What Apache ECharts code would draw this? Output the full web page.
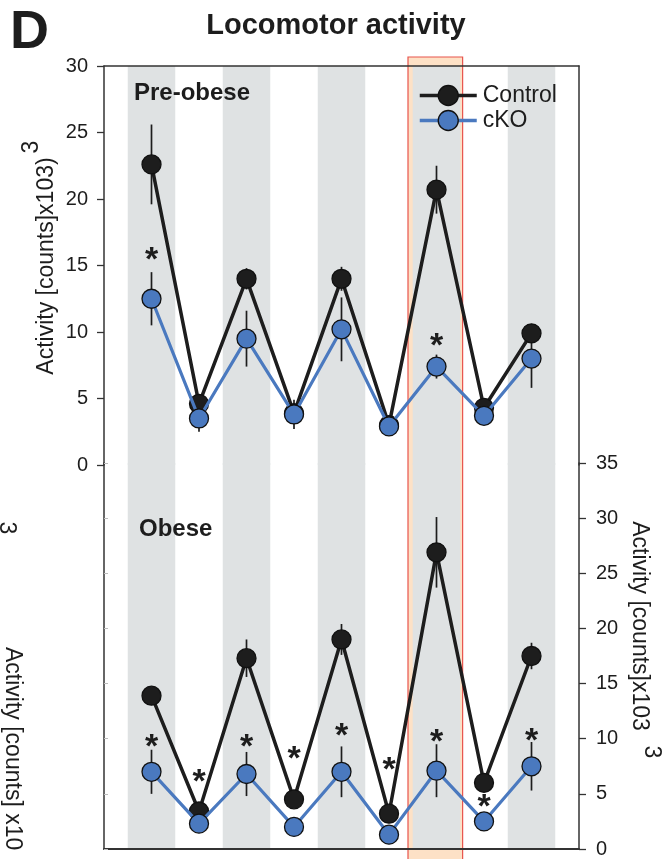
<!DOCTYPE html>
<html><head><meta charset="utf-8">
<script src="https://cdn.jsdelivr.net/npm/echarts@6/dist/echarts.min.js"></script>
<style>html,body{margin:0;padding:0;background:#fff}#c{width:669px;height:859px}</style>
</head><body><div id="c"></div>
<script>
// ---- data ----
const timepoints = [0, 1, 2, 3, 4, 5, 6, 7, 8];
const preControl    = [22.6, 4.6, 14.0, 3.9, 14.0, 3.0, 20.7, 4.3, 9.9];
const preControlErr = [3.0, 0.5, 0.8, 0.4, 0.9, 0.3, 1.8, 0.4, 0.6];
const preCKO        = [12.5, 3.5, 9.5, 3.8, 10.2, 2.9, 7.4, 3.7, 8.0];
const preCKOErr     = [2.0, 1.0, 2.1, 1.1, 2.4, 0.4, 0.9, 0.4, 2.2];
const obControl     = [13.9, 3.4, 17.3, 4.5, 19.0, 3.2, 26.9, 6.0, 17.5];
const obControlErr  = [0.5, 0.4, 1.7, 0.4, 1.4, 0.4, 3.2, 0.5, 1.2];
const obCKO         = [7.0, 2.3, 6.8, 2.0, 7.0, 1.3, 7.1, 2.5, 7.5];
const obCKOErr      = [2.0, 0.4, 2.0, 0.3, 2.3, 0.3, 2.4, 0.4, 2.2];
const preStars = [[0, 16.0], [6, 9.5]];
const obStars  = [[0, 9.9], [1, 6.7], [2, 9.9], [3, 8.8], [4, 10.9], [5, 7.8], [6, 10.4], [7, 4.5], [8, 10.5]];
const darkPhases = [0, 2, 4, 6, 8];
const highlightRange = [5.4, 6.55];
const preMax = 30, obMax = 35, tickStep = 5;

const FONT = "'Liberation Sans', Arial, sans-serif";
const INK = '#1d1d1d';
const BLUE = '#4a79bf';

const chart = echarts.init(document.getElementById('c'), null, {renderer: 'canvas'});

function pts(vals) { return vals.map((v, i) => [timepoints[i], v]); }

function bandSeries(gi, ymax) {
  return {
    type: 'custom', xAxisIndex: gi, yAxisIndex: gi === 0 ? 0 : 2, z: 1.2, silent: true,
    data: darkPhases.map(x => [x]),
    renderItem(params, api) {
      const x = api.value(0);
      const p1 = api.coord([x - 0.5, ymax]);
      const p2 = api.coord([x + 0.5, 0]);
      return {type: 'rect', shape: {x: p1[0], y: p1[1], width: p2[0] - p1[0], height: p2[1] - p1[1]},
        style: {fill: '#dfe2e3'}};
    }
  };
}

function errSeries(vals, errs, gi) {
  return {
    type: 'custom', xAxisIndex: gi, yAxisIndex: gi === 0 ? 0 : 2, z: 2, silent: true,
    data: vals.map((v, i) => [timepoints[i], v - errs[i], v + errs[i]]),
    encode: {x: 0, y: [1, 2]},
    renderItem(params, api) {
      const x = api.value(0);
      const a = api.coord([x, api.value(1)]);
      const b = api.coord([x, api.value(2)]);
      return {type: 'line', shape: {x1: a[0], y1: a[1], x2: b[0], y2: b[1]},
        style: {stroke: INK, lineWidth: 1.7}};
    }
  };
}

function lineSeries(name, vals, gi, color, fill, z, w) {
  return {
    name, type: 'line', xAxisIndex: gi, yAxisIndex: gi === 0 ? 0 : 2, z,
    data: pts(vals), symbol: 'circle', symbolSize: 19, showSymbol: true,
    lineStyle: {color, width: w},
    itemStyle: {color: fill, borderColor: '#111', borderWidth: 1.3},
    emphasis: {disabled: true}, silent: true
  };
}

function starSeries(data, gi) {
  return {
    type: 'custom', xAxisIndex: gi, yAxisIndex: gi === 0 ? 0 : 2, z: 6, silent: true,
    data,
    renderItem(params, api) {
      const p = api.coord([api.value(0), api.value(1)]);
      return {type: 'text', x: p[0], y: p[1] + 8,
        style: {text: '*', fontSize: 34, fontWeight: 'bold', fontFamily: FONT, fill: INK,
          align: 'center', verticalAlign: 'middle'}};
    }
  };
}

const highlightFill = {
  type: 'custom', xAxisIndex: 0, yAxisIndex: 0, z: 1, silent: true,
  data: [[highlightRange[0], highlightRange[1]]],
  renderItem(params, api) {
    const a = api.coord([api.value(0), preMax]);
    const b = api.coord([api.value(1), preMax]);
    const top = a[1] - 9;
    return {type: 'rect', shape: {x: a[0], y: top, width: b[0] - a[0], height: api.getHeight() - top + 2},
      style: {fill: '#fde1c6'}};
  }
};
const highlightBorder = {
  type: 'custom', xAxisIndex: 0, yAxisIndex: 0, z: 1.5, silent: true,
  data: [[highlightRange[0], highlightRange[1]]],
  renderItem(params, api) {
    const a = api.coord([api.value(0), preMax]);
    const b = api.coord([api.value(1), preMax]);
    const top = a[1] - 9;
    return {type: 'rect', shape: {x: a[0], y: top, width: b[0] - a[0], height: api.getHeight() - top + 2},
      style: {fill: 'none', stroke: '#e8544c', lineWidth: 1.2}};
  }
};

const axisLine = {show: true, onZero: false, lineStyle: {color: '#333', width: 1.5}};
const axisLabelStyle = {fontSize: 20, color: INK, fontFamily: FONT};

function txt(text, x, y, size, weight, opts) {
  return Object.assign({type: 'text', x, y, silent: true, z: 10,
    style: {text, fontSize: size, fontWeight: weight || 'normal', fontFamily: FONT, fill: INK,
      align: (opts && opts.align) || 'left', verticalAlign: 'middle'}}, opts && opts.el);
}

chart.setOption({
  animation: false,
  backgroundColor: '#fff',
  grid: [
    {left: 104, top: 66, width: 475, height: 399},
    {left: 104, top: 463, width: 475, height: 388}
  ],
  xAxis: [
    {gridIndex: 0, type: 'value', min: -1, max: 9, position: 'top', axisLine, axisTick: {show: false},
      axisLabel: {show: false}, splitLine: {show: false}, z: 7},
    {gridIndex: 1, type: 'value', min: -1, max: 9, position: 'bottom',
      axisLine: {show: true, onZero: false, lineStyle: {color: '#333', width: 2}}, axisTick: {show: false},
      axisLabel: {show: false}, splitLine: {show: false}, z: 7}
  ],
  yAxis: [
    {gridIndex: 0, type: 'value', min: 0, max: preMax, interval: tickStep, position: 'left', axisLine,
      axisTick: {show: true, length: 7, lineStyle: {color: '#333', width: 1.3}},
      axisLabel: Object.assign({margin: 16}, axisLabelStyle), splitLine: {show: false}, z: 7},
    {gridIndex: 0, type: 'value', min: 0, max: preMax, position: 'right', axisLine,
      axisTick: {show: false}, axisLabel: {show: false}, splitLine: {show: false}, z: 7},
    {gridIndex: 1, type: 'value', min: 0, max: obMax, interval: tickStep, position: 'right', axisLine,
      axisTick: {show: true, length: 7, lineStyle: {color: '#333', width: 1.3}},
      axisLabel: Object.assign({margin: 17}, axisLabelStyle), splitLine: {show: false}, z: 7},
    {gridIndex: 1, type: 'value', min: 0, max: obMax, interval: tickStep, position: 'left', axisLine,
      axisTick: {show: true, inside: true, length: 4, lineStyle: {color: '#bbb', width: 1}},
      axisLabel: {show: false}, splitLine: {show: false}, z: 7}
  ],
  legend: {
    orient: 'vertical', left: 413, top: 79, itemWidth: 57, itemHeight: 25, itemGap: 2,
    data: ['Control', 'cKO'], selectedMode: false,
    lineStyle: {width: 3.5},
    itemStyle: {borderColor: '#111', borderWidth: 1.3},
    textStyle: {fontSize: 23, color: INK, fontFamily: FONT, padding: [0, 0, 0, 1]}
  },
  series: [
    highlightFill,
    bandSeries(0, preMax), bandSeries(1, obMax),
    highlightBorder,
    errSeries(preControl, preControlErr, 0), errSeries(preCKO, preCKOErr, 0),
    errSeries(obControl, obControlErr, 1), errSeries(obCKO, obCKOErr, 1),
    lineSeries('Control', preControl, 0, INK, INK, 3, 3.5),
    lineSeries('cKO', preCKO, 0, BLUE, BLUE, 4, 3.2),
    lineSeries('Control', obControl, 1, INK, INK, 3, 3.5),
    lineSeries('cKO', obCKO, 1, BLUE, BLUE, 4, 3.2),
    starSeries(preStars, 0), starSeries(obStars, 1)
  ],
  graphic: [
    txt('D', 10, 33, 54, 'bold'),
    txt('Locomotor activity', 336, 26, 29, 'bold', {align: 'center'}),
    txt('Pre-obese', 134, 93, 24, 'bold'),
    txt('Obese', 139, 529, 24, 'bold'),
    txt('Activity [counts]x103)', 0, 0, 23, 'normal', {align: 'center', el: {x: 47, y: 266, rotation: Math.PI / 2}}),
    txt('3', 0, 0, 23, 'normal', {align: 'center', el: {x: 32, y: 147, rotation: Math.PI / 2}}),
    txt('Activity [counts]x103', 0, 0, 23, 'normal', {align: 'center', el: {x: 639, y: 626, rotation: -Math.PI / 2}}),
    txt('3', 0, 0, 23, 'normal', {align: 'center', el: {x: 651, y: 752, rotation: -Math.PI / 2}}),
    txt('Activity [counts] x10', 0, 0, 23, 'normal', {align: 'left', el: {x: 12, y: 647, rotation: -Math.PI / 2}}),
    txt('3', 0, 0, 23, 'normal', {align: 'center', el: {x: 6, y: 528, rotation: -Math.PI / 2}})
  ]
});
</script></body></html>
